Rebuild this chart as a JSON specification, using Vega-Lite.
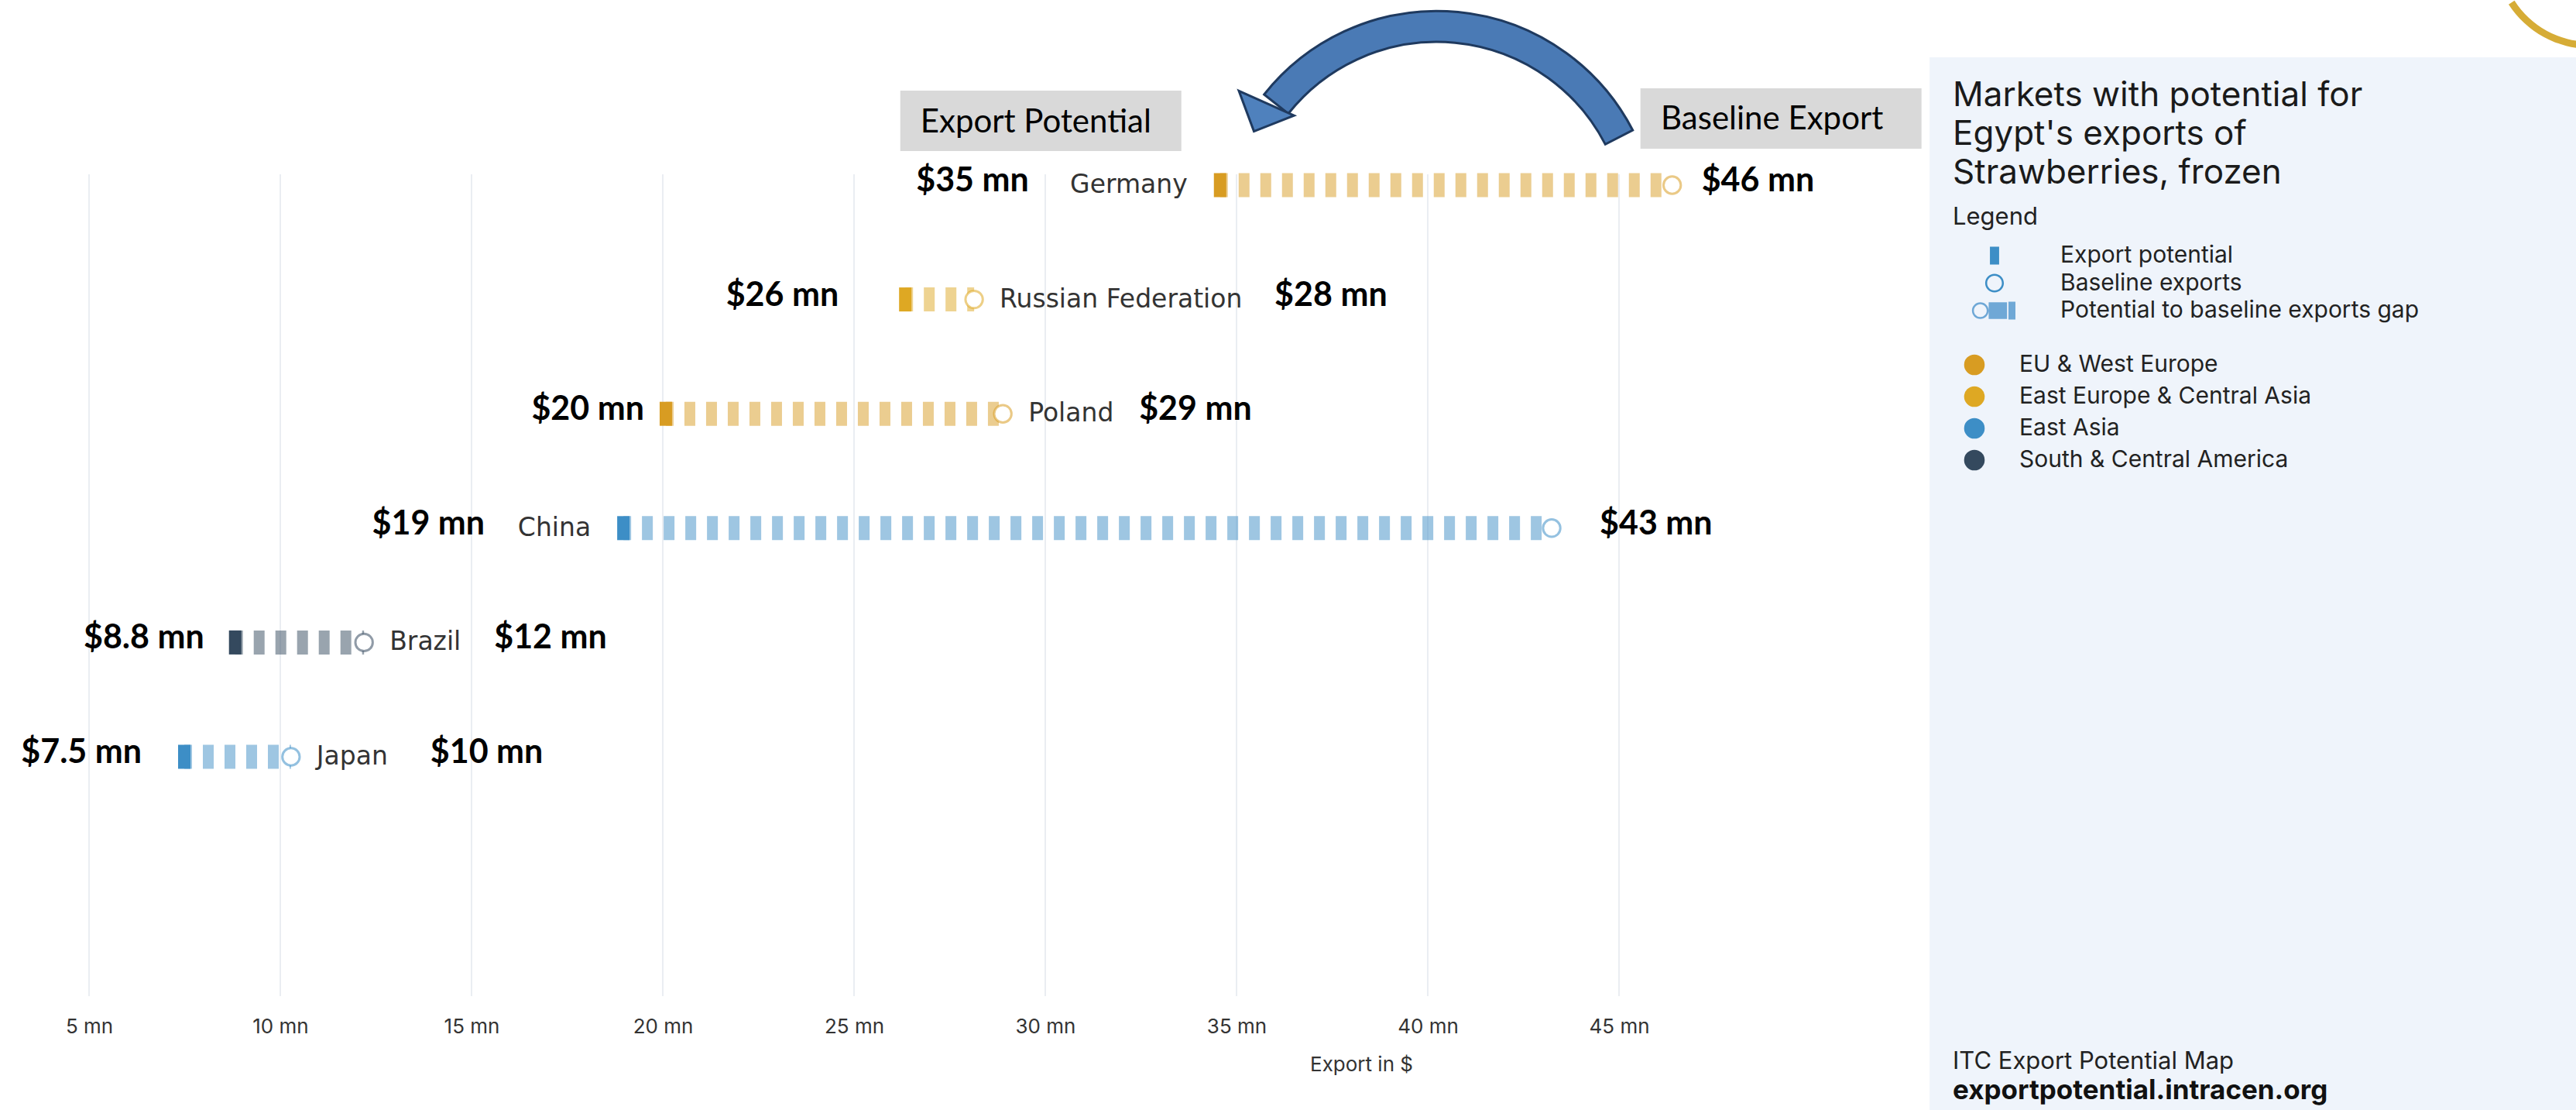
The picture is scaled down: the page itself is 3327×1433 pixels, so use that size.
{
  "$schema": "https://vega.github.io/schema/vega-lite/v6.json",
  "width": 3327,
  "height": 1433,
  "autosize": {"type": "none"},
  "padding": 0,
  "background": "white",
  "config": {"view": {"stroke": null}, "font": "Inter"},
  "title": {
    "text": ["Markets with potential for", "Egypt's exports of", "Strawberries, frozen"],
    "subtitle": "Legend",
    "anchor": "start",
    "frame": "group",
    "orient": "top",
    "dx": 2522,
    "offset": -296,
    "font": "Inter",
    "fontSize": 44,
    "fontWeight": "normal",
    "lineHeight": 50,
    "color": "#1a1a1a",
    "subtitleFont": "Inter",
    "subtitleFontSize": 31,
    "subtitleColor": "#222222",
    "subtitlePadding": 20
  },
  "datasets": {
    "markets": [
      {"country": "Germany", "region": "EU & West Europe", "potential": 34.57, "baseline": 46.39, "potential_label": "$35 mn", "baseline_label": "$46 mn"},
      {"country": "Russian Federation", "region": "East Europe & Central Asia", "potential": 26.34, "baseline": 28.14, "potential_label": "$26 mn", "baseline_label": "$28 mn"},
      {"country": "Poland", "region": "EU & West Europe", "potential": 20.08, "baseline": 28.89, "potential_label": "$20 mn", "baseline_label": "$29 mn"},
      {"country": "China", "region": "East Asia", "potential": 18.97, "baseline": 43.24, "potential_label": "$19 mn", "baseline_label": "$43 mn"},
      {"country": "Brazil", "region": "South & Central America", "potential": 8.82, "baseline": 12.19, "potential_label": "$8.8 mn", "baseline_label": "$12 mn"},
      {"country": "Japan", "region": "East Asia", "potential": 7.49, "baseline": 10.28, "potential_label": "$7.5 mn", "baseline_label": "$10 mn"}
    ],
    "ticks": [
      {"value": 5}, {"value": 10}, {"value": 15}, {"value": 20}, {"value": 25},
      {"value": 30}, {"value": 35}, {"value": 40}, {"value": 45}
    ],
    "kinds": [
      {"kind": "Export potential"},
      {"kind": "Baseline exports"},
      {"kind": "Potential to baseline exports gap"}
    ],
    "footer": [
      {"source": "ITC Export Potential Map", "site": "exportpotential.intracen.org"}
    ]
  },
  "data": {"name": "markets"},
  "layer": [
    {
      "data": {"name": "footer"},
      "mark": {"type": "rect", "fill": "#EFF4FB", "yOffset": -165, "y2Offset": 460},
      "encoding": {
        "x": {"datum": 53.12, "type": "quantitative"},
        "x2": {"datum": 70.02},
        "y": {"datum": "Germany", "type": "nominal", "axis": null},
        "y2": {"datum": "Japan"}
      }
    },
    {
      "data": {"name": "footer"},
      "mark": {"type": "arc", "radius": 125, "radius2": 116, "theta": 2.14, "theta2": 4.14, "fill": "#D6AC36", "yOffset": -301},
      "encoding": {
        "x": {"datum": 70.385, "type": "quantitative"},
        "y": {"datum": "Germany", "type": "nominal", "axis": null}
      }
    },
    {
      "data": {"name": "ticks"},
      "mark": {"type": "rule", "color": "#E3E8EE", "strokeWidth": 1.5, "yOffset": -14, "y2Offset": 309},
      "encoding": {
        "x": {
          "field": "value",
          "type": "quantitative",
          "scale": {"domain": [2.672, 70.02], "nice": false, "zero": false},
          "axis": {
            "values": [5, 10, 15, 20, 25, 30, 35, 40, 45],
            "labelExpr": "datum.value + ' mn'",
            "grid": false,
            "domain": false,
            "ticks": false,
            "tickSize": 0,
            "labelPadding": 0,
            "offset": -121,
            "labelFont": "Inter",
            "labelFontSize": 26,
            "labelColor": "#333333",
            "title": "Export in $",
            "titleFont": "Inter",
            "titleFontSize": 26,
            "titleFontWeight": "normal",
            "titleColor": "#333333",
            "titleX": 1758,
            "titleY": 62,
            "titleBaseline": "middle"
          }
        },
        "y": {
          "datum": "Germany",
          "type": "nominal",
          "scale": {"type": "point", "domain": ["Germany", "Russian Federation", "Poland", "China", "Brazil", "Japan"], "range": [239, 977], "padding": 0},
          "axis": null
        },
        "y2": {"datum": "Japan"}
      }
    },
    {
      "mark": {"type": "rule", "strokeWidth": 31, "strokeDash": [14, 14], "strokeDashOffset": 4, "strokeCap": "butt", "strokeOpacity": 0.5},
      "encoding": {
        "x": {"field": "potential", "type": "quantitative"},
        "x2": {"field": "baseline"},
        "y": {"field": "country", "type": "nominal", "axis": null},
        "stroke": {
          "field": "region",
          "type": "nominal",
          "scale": {"domain": ["EU & West Europe", "East Europe & Central Asia", "East Asia", "South & Central America"], "range": ["#D89C22", "#DEA823", "#3D8EC6", "#34495E"]}
        }
      }
    },
    {
      "mark": {"type": "tick", "thickness": 16, "size": 31, "opacity": 1},
      "encoding": {
        "x": {"field": "potential", "type": "quantitative"},
        "y": {"field": "country", "type": "nominal", "axis": null},
        "color": {
          "field": "region",
          "type": "nominal",
          "scale": {"domain": ["EU & West Europe", "East Europe & Central Asia", "East Asia", "South & Central America"], "range": ["#D89C22", "#DEA823", "#3D8EC6", "#34495E"]},
          "legend": {
            "orient": "none",
            "legendX": 2535,
            "legendY": 456,
            "title": null,
            "symbolType": "circle",
            "symbolSize": 707,
            "symbolStrokeWidth": 0,
            "symbolOpacity": 1,
            "labelOffset": 43,
            "labelLimit": 0,
            "labelFont": "Inter",
            "labelFontSize": 30,
            "labelColor": "#222222",
            "rowPadding": 11
          }
        }
      }
    },
    {
      "mark": {"type": "point", "shape": "circle", "filled": true, "fill": "white", "size": 500, "strokeWidth": 3, "opacity": 1, "strokeOpacity": 0.55},
      "encoding": {
        "x": {"field": "baseline", "type": "quantitative"},
        "y": {"field": "country", "type": "nominal", "axis": null},
        "stroke": {"field": "region", "type": "nominal"}
      }
    },
    {
      "transform": [{"filter": "datum.country !== 'Germany' && datum.country !== 'China'"}],
      "mark": {"type": "text", "align": "left", "baseline": "middle", "dx": 33, "font": "DejaVu Sans", "fontSize": 33, "color": "#333333"},
      "encoding": {
        "x": {"field": "baseline", "type": "quantitative"},
        "y": {"field": "country", "type": "nominal", "axis": null},
        "text": {"field": "country"}
      }
    },
    {
      "transform": [{"filter": "datum.country === 'Germany' || datum.country === 'China'"}],
      "mark": {"type": "text", "align": "right", "baseline": "middle", "dx": -42, "font": "DejaVu Sans", "fontSize": 33, "color": "#333333"},
      "encoding": {
        "x": {"field": "potential", "type": "quantitative"},
        "y": {"field": "country", "type": "nominal", "axis": null},
        "text": {"field": "country"}
      }
    },
    {
      "mark": {
        "type": "text", "align": "right", "baseline": "middle", "dy": -5,
        "dx": {"expr": "datum.country === 'Germany' ? -247 : datum.country === 'Russian Federation' ? -86 : datum.country === 'Poland' ? -28 : datum.country === 'China' ? -179 : datum.country === 'Brazil' ? -40 : -55"},
        "font": "Lato", "fontWeight": "bold", "fontSize": 43, "color": "#000000"
      },
      "encoding": {
        "x": {"field": "potential", "type": "quantitative"},
        "y": {"field": "country", "type": "nominal", "axis": null},
        "text": {"field": "potential_label"}
      }
    },
    {
      "mark": {
        "type": "text", "align": "left", "baseline": "middle", "dy": -5,
        "dx": {"expr": "datum.country === 'Germany' ? 38 : datum.country === 'Russian Federation' ? 388 : datum.country === 'Poland' ? 176 : datum.country === 'China' ? 62 : datum.country === 'Brazil' ? 168 : 180"},
        "font": "Lato", "fontWeight": "bold", "fontSize": 43, "color": "#000000"
      },
      "encoding": {
        "x": {"field": "baseline", "type": "quantitative"},
        "y": {"field": "country", "type": "nominal", "axis": null},
        "text": {"field": "baseline_label"}
      }
    },
    {
      "transform": [{"filter": "datum.country === 'Germany'"}],
      "mark": {"type": "point", "shape": "M-1,-0.215H1V0.215H-1Z", "size": 131769, "filled": true, "fill": "#D9D9D9", "strokeWidth": 0, "opacity": 1, "xOffset": -231.5, "yOffset": -83},
      "encoding": {
        "x": {"field": "potential", "type": "quantitative"},
        "y": {"field": "country", "type": "nominal", "axis": null}
      }
    },
    {
      "transform": [{"filter": "datum.country === 'Germany'"}],
      "mark": {"type": "point", "shape": "M-1,-0.215H1V0.215H-1Z", "size": 131769, "filled": true, "fill": "#D9D9D9", "strokeWidth": 0, "opacity": 1, "xOffset": 140.5, "yOffset": -86},
      "encoding": {
        "x": {"field": "baseline", "type": "quantitative"},
        "y": {"field": "country", "type": "nominal", "axis": null}
      }
    },
    {
      "transform": [{"filter": "datum.country === 'Germany'"}],
      "mark": {"type": "text", "text": "Export Potential", "align": "center", "baseline": "middle", "dx": -238, "dy": -81, "font": "Lato", "fontSize": 42, "color": "#000000"},
      "encoding": {
        "x": {"field": "potential", "type": "quantitative"},
        "y": {"field": "country", "type": "nominal", "axis": null}
      }
    },
    {
      "transform": [{"filter": "datum.country === 'Germany'"}],
      "mark": {"type": "text", "text": "Baseline Export", "align": "center", "baseline": "middle", "dx": 129, "dy": -85, "font": "Lato", "fontSize": 42, "color": "#000000"},
      "encoding": {
        "x": {"field": "baseline", "type": "quantitative"},
        "y": {"field": "country", "type": "nominal", "axis": null}
      }
    },
    {
      "transform": [{"filter": "datum.country === 'Germany'"}],
      "mark": {"type": "arc", "radius": 284.8, "radius2": 245, "theta": -0.9, "theta2": 1.093, "fill": "#4A7AB5", "stroke": "#1F3A5F", "strokeWidth": 3, "xOffset": 280, "yOffset": 60},
      "encoding": {
        "x": {"field": "potential", "type": "quantitative"},
        "y": {"field": "country", "type": "nominal", "axis": null}
      }
    },
    {
      "transform": [{"filter": "datum.country === 'Germany'"}],
      "mark": {"type": "point", "shape": "M-1,-0.5L1,-0.5L0,0.52Z", "size": 6084, "angle": 24, "filled": true, "fill": "#4F81BD", "stroke": "#1F3A5F", "strokeWidth": 3, "opacity": 1, "xOffset": 52, "yOffset": -88},
      "encoding": {
        "x": {"field": "potential", "type": "quantitative"},
        "y": {"field": "country", "type": "nominal", "axis": null}
      }
    },
    {
      "data": {"name": "kinds"},
      "mark": {"type": "point", "opacity": 0, "filled": true},
      "encoding": {
        "shape": {
          "field": "kind",
          "type": "nominal",
          "scale": {
            "domain": ["Export potential", "Baseline exports", "Potential to baseline exports gap"],
            "range": [
              "M-0.33,-0.64H0.33V0.64H-0.33Z",
              "M-0.67,0A0.67,0.67 0 1,0 0.67,0A0.67,0.67 0 1,0 -0.67,0Z M-0.53,0A0.53,0.53 0 1,1 0.53,0A0.53,0.53 0 1,1 -0.53,0Z",
              "M-1.62,0A0.6,0.6 0 1,0 -0.42,0A0.6,0.6 0 1,0 -1.62,0Z M-1.48,0A0.46,0.46 0 1,1 -0.56,0A0.46,0.46 0 1,1 -1.48,0Z M-0.42,-0.6H0.9V0.6H-0.42Z M1.0,-0.64H1.5V0.64H1.0Z"
            ]
          },
          "legend": {
            "orient": "none",
            "legendX": 2558,
            "legendY": 312,
            "title": null,
            "symbolSize": 1296,
            "symbolStrokeWidth": 0,
            "symbolOpacity": 1,
            "labelOffset": 67,
            "labelLimit": 0,
            "labelFont": "Inter",
            "labelFontSize": 30,
            "labelColor": "#222222",
            "rowPadding": 2.5
          }
        },
        "fill": {
          "field": "kind",
          "type": "nominal",
          "scale": {"domain": ["Export potential", "Baseline exports", "Potential to baseline exports gap"], "range": ["#3D8EC6", "#3D8EC6", "#6FA8D6"]}
        }
      }
    },
    {
      "data": {"name": "footer"},
      "mark": {"type": "text", "align": "left", "baseline": "alphabetic", "yOffset": 403, "font": "Inter", "fontSize": 31, "color": "#222222"},
      "encoding": {
        "x": {"datum": 53.725, "type": "quantitative"},
        "y": {"datum": "Japan", "type": "nominal", "axis": null},
        "text": {"field": "source"}
      }
    },
    {
      "data": {"name": "footer"},
      "mark": {"type": "text", "align": "left", "baseline": "alphabetic", "yOffset": 442, "font": "Inter", "fontSize": 35, "fontWeight": "bold", "color": "#111111"},
      "encoding": {
        "x": {"datum": 53.725, "type": "quantitative"},
        "y": {"datum": "Japan", "type": "nominal", "axis": null},
        "text": {"field": "site"}
      }
    }
  ]
}
